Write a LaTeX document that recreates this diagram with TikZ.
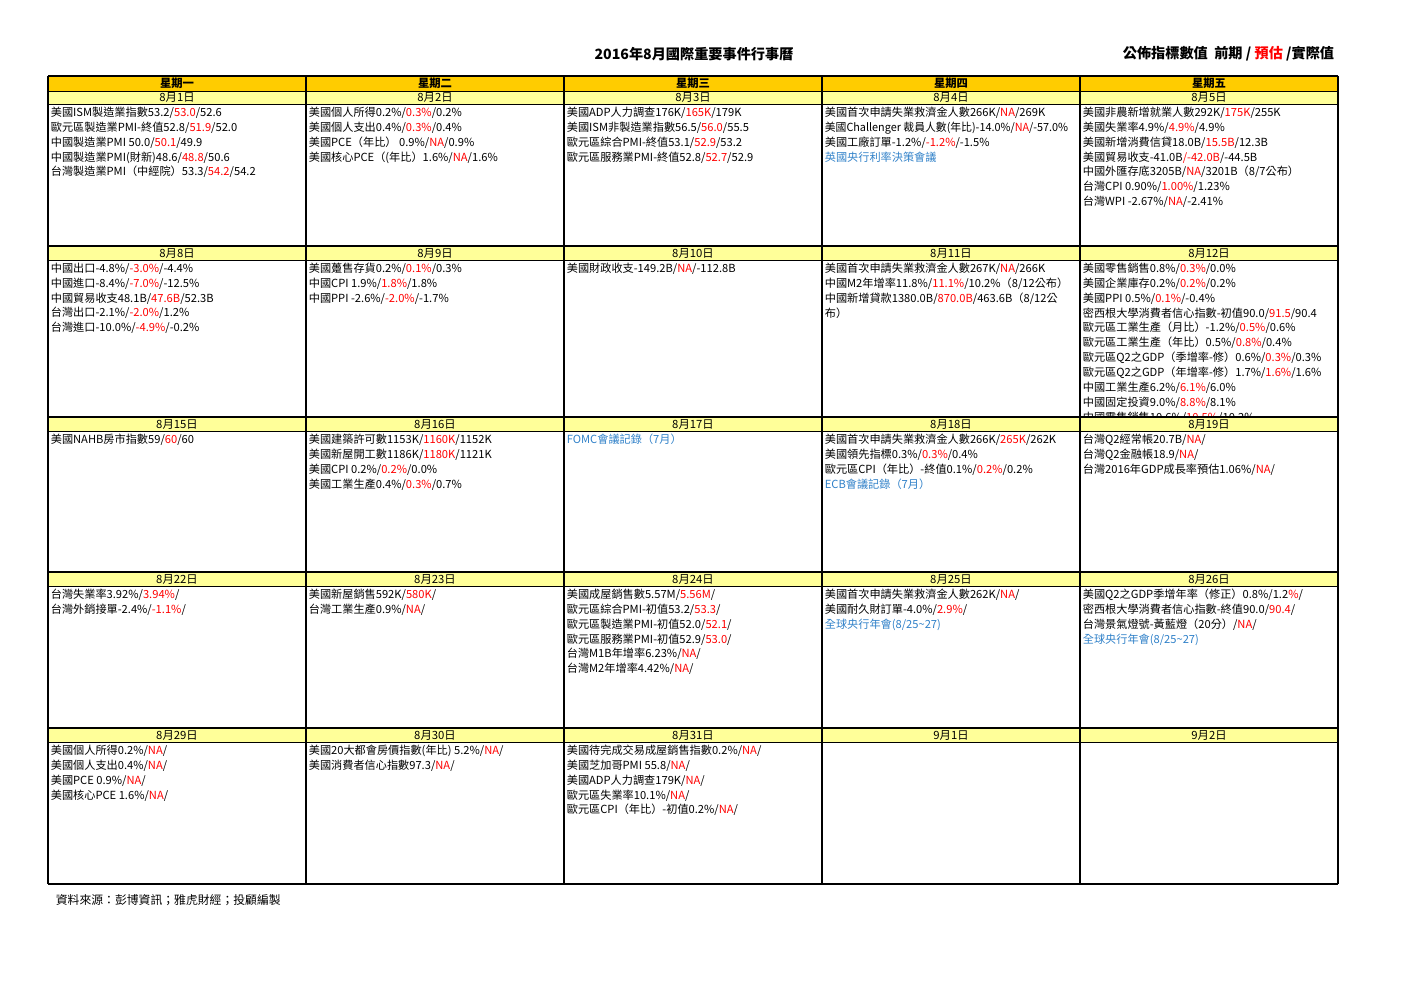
\documentclass[tikz,border=0pt]{standalone}
\usepackage{fontspec}
\setmainfont{Noto Sans CJK TC}
\definecolor{wdayorange}{HTML}{FFCC00}
\definecolor{dayyellow}{HTML}{FFFF99}
\definecolor{estred}{HTML}{FF0000}
\definecolor{mtgblue}{HTML}{2F80C8}
\newcommand{\est}[1]{\textcolor{estred}{#1}}
\newcommand{\mtg}[1]{\textcolor{mtgblue}{#1}}

\begin{document}
\begin{tikzpicture}[x=0.6pt, y=-0.6pt,
	weekday/.style={font=\fontsize{6.8}{8}\selectfont\bfseries},
	daylabel/.style={font=\fontsize{6.8}{8}\selectfont},
	events/.style={anchor=north west, align=left, inner sep=0pt,
		font=\fontsize{6.7}{8.95}\selectfont},
	heading/.style={font=\fontsize{8.5}{10}\selectfont\bfseries},
	gridthick/.style={line width=1pt},
	gridthin/.style={line width=0.5pt}]

\useasboundingbox (0,0) rectangle (1403,992);

\node[heading] (title) at (694,54) {2016年8月國際重要事件行事曆};
\node[heading, anchor=east] (legend) at (1340,54)
	{公佈指標數值\ \ 前期 / \est{預估} /實際值};

\fill[wdayorange] (48,76) rectangle (1338,91);
\foreach \ytop/\ybot in {91/104, 246/260, 417/431, 572/586, 728/742}
	\fill[dayyellow] (48,\ytop) rectangle (1338,\ybot);

\foreach \wday [count=\col from 0] in {星期一, 星期二, 星期三, 星期四, 星期五}
	\node[weekday] (wd\col) at (177+258*\col, 83.5) {\wday};

\foreach \ymid [count=\row from 0] in {97.5, 253, 424, 579, 735}
	\foreach \col in {0,...,4} {
		\pgfmathtruncatemacro\dnum{1+7*\row+\col}
		\ifnum\dnum>31
			\pgfmathtruncatemacro\snum{\dnum-31}
			\node[daylabel] (day\dnum) at (177+258*\col, \ymid) {9月\snum 日};
		\else
			\node[daylabel] (day\dnum) at (177+258*\col, \ymid) {8月\dnum 日};
		\fi
	}

\node[events] (ev1) at (50.5,106.5) {美國ISM製造業指數53.2/\est{53.0}/52.6\\
	歐元區製造業PMI-終值52.8/\est{51.9}/52.0\\
	中國製造業PMI 50.0/\est{50.1}/49.9\\
	中國製造業PMI(財新)48.6/\est{48.8}/50.6\\
	台灣製造業PMI（中經院）53.3/\est{54.2}/54.2};
\node[events] (ev2) at (308.5,106.5) {美國個人所得0.2\%/\est{0.3\%}/0.2\%\\
	美國個人支出0.4\%/\est{0.3\%}/0.4\%\\
	美國PCE（年比） 0.9\%/\est{NA}/0.9\%\\
	美國核心PCE（(年比）1.6\%/\est{NA}/1.6\%};
\node[events] (ev3) at (566.5,106.5) {美國ADP人力調查176K/\est{165K}/179K\\
	美國ISM非製造業指數56.5/\est{56.0}/55.5\\
	歐元區綜合PMI-終值53.1/\est{52.9}/53.2\\
	歐元區服務業PMI-終值52.8/\est{52.7}/52.9};
\node[events] (ev4) at (824.5,106.5) {美國首次申請失業救濟金人數266K/\est{NA}/269K\\
	\scalebox{0.97}[1]{美國Challenger 裁員人數(年比)-14.0\%/\est{NA}/-57.0\%}\\
	美國工廠訂單-1.2\%/\est{-1.2\%}/-1.5\%\\
	\mtg{英國央行利率決策會議}};
\node[events] (ev5) at (1082.5,106.5) {美國非農新增就業人數292K/\est{175K}/255K\\
	美國失業率4.9\%/\est{4.9\%}/4.9\%\\
	美國新增消費信貸18.0B/\est{15.5B}/12.3B\\
	美國貿易收支-41.0B\est{/-42.0B}/-44.5B\\
	中國外匯存底3205B/\est{NA}/3201B（8/7公布）\\
	台灣CPI 0.90\%/\est{1.00\%}/1.23\%\\
	台灣WPI -2.67\%/\est{NA}/-2.41\%};

\node[events] (ev8) at (50.5,262.5) {中國出口-4.8\%/\est{-3.0\%}/-4.4\%\\
	中國進口-8.4\%/\est{-7.0\%}/-12.5\%\\
	中國貿易收支48.1B/\est{47.6B}/52.3B\\
	台灣出口-2.1\%/\est{-2.0\%}/1.2\%\\
	台灣進口-10.0\%/\est{-4.9\%}/-0.2\%};
\node[events] (ev9) at (308.5,262.5) {美國躉售存貨0.2\%/\est{0.1\%}/0.3\%\\
	中國CPI 1.9\%/\est{1.8\%}/1.8\%\\
	中國PPI -2.6\%/\est{-2.0\%}/-1.7\%};
\node[events] (ev10) at (566.5,262.5) {美國財政收支-149.2B/\est{NA}/-112.8B};
\node[events] (ev11) at (824.5,262.5) {美國首次申請失業救濟金人數267K/\est{NA}/266K\\
	中國M2年增率11.8\%/\est{11.1\%}/10.2\%（8/12公布）\\
	中國新增貸款1380.0B/\est{870.0B}/463.6B（8/12公\\
	布）};
\begin{scope}
\clip (1080,260) rectangle (1338,417);
\node[events] (ev12) at (1082.5,262.5) {美國零售銷售0.8\%/\est{0.3\%}/0.0\%\\
	美國企業庫存0.2\%/\est{0.2\%}/0.2\%\\
	美國PPI 0.5\%/\est{0.1\%}/-0.4\%\\
	密西根大學消費者信心指數-初值90.0/\est{91.5}/90.4\\
	歐元區工業生產（月比）-1.2\%/\est{0.5\%}/0.6\%\\
	歐元區工業生產（年比）0.5\%/\est{0.8\%}/0.4\%\\
	歐元區Q2之GDP（季增率-修）0.6\%/\est{0.3\%}/0.3\%\\
	歐元區Q2之GDP（年增率-修）1.7\%/\est{1.6\%}/1.6\%\\
	中國工業生產6.2\%/\est{6.1\%}/6.0\%\\
	中國固定投資9.0\%/\est{8.8\%}/8.1\%\\
	中國零售銷售10.6\%/\est{10.5\%}/10.2\%};
\end{scope}

\node[events] (ev15) at (50.5,433.5) {美國NAHB房市指數59/\est{60}/60};
\node[events] (ev16) at (308.5,433.5) {美國建築許可數1153K/\est{1160K}/1152K\\
	美國新屋開工數1186K/\est{1180K}/1121K\\
	美國CPI 0.2\%/\est{0.2\%}/0.0\%\\
	美國工業生產0.4\%/\est{0.3\%}/0.7\%};
\node[events] (ev17) at (566.5,433.5) {\mtg{FOMC會議記錄（7月）}};
\node[events] (ev18) at (824.5,433.5) {美國首次申請失業救濟金人數266K/\est{265K}/262K\\
	美國領先指標0.3\%/\est{0.3\%}/0.4\%\\
	歐元區CPI（年比）-終值0.1\%/\est{0.2\%}/0.2\%\\
	\mtg{ECB會議記錄（7月）}};
\node[events] (ev19) at (1082.5,433.5) {台灣Q2經常帳20.7B/\est{NA}/\\
	台灣Q2金融帳18.9/\est{NA}/\\
	台灣2016年GDP成長率預估1.06\%/\est{NA}/};

\node[events] (ev22) at (50.5,588.5) {台灣失業率3.92\%/\est{3.94\%}/\\
	台灣外銷接單-2.4\%/\est{-1.1\%}/};
\node[events] (ev23) at (308.5,588.5) {美國新屋銷售592K/\est{580K}/\\
	台灣工業生產0.9\%/\est{NA}/};
\node[events] (ev24) at (566.5,588.5) {美國成屋銷售數5.57M/\est{5.56M}/\\
	歐元區綜合PMI-初值53.2/\est{53.3}/\\
	歐元區製造業PMI-初值52.0/\est{52.1}/\\
	歐元區服務業PMI-初值52.9/\est{53.0}/\\
	台灣M1B年增率6.23\%/\est{NA}/\\
	台灣M2年增率4.42\%/\est{NA}/};
\node[events] (ev25) at (824.5,588.5) {美國首次申請失業救濟金人數262K/\est{NA}/\\
	美國耐久財訂單-4.0\%/\est{2.9\%}/\\
	\mtg{全球央行年會(8/25\textasciitilde 27)}};
\node[events] (ev26) at (1082.5,588.5) {美國Q2之GDP季增年率（修正）0.8\%/1.2\est{\%}/\\
	密西根大學消費者信心指數-終值90.0/\est{90.4}/\\
	台灣景氣燈號-黃藍燈（20分）/\est{NA}/\\
	\mtg{全球央行年會(8/25\textasciitilde 27)}};

\node[events] (ev29) at (50.5,744.5) {美國個人所得0.2\%/\est{NA}/\\
	美國個人支出0.4\%/\est{NA}/\\
	美國PCE 0.9\%/\est{NA}/\\
	美國核心PCE 1.6\%/\est{NA}/};
\node[events] (ev30) at (308.5,744.5) {美國20大都會房價指數(年比) 5.2\%/\est{NA}/\\
	美國消費者信心指數97.3/\est{NA}/};
\node[events] (ev31) at (566.5,744.5) {美國待完成交易成屋銷售指數0.2\%/\est{NA}/\\
	美國芝加哥PMI 55.8/\est{NA}/\\
	美國ADP人力調查179K/\est{NA}/\\
	歐元區失業率10.1\%/\est{NA}/\\
	歐元區CPI（年比）-初值0.2\%/\est{NA}/};

\draw[gridthin] (48,91) -- (1338,91);
\foreach \y in {104, 260, 431, 586, 742}
	\draw[gridthin] (48,\y) -- (1338,\y);
\foreach \y in {76, 246, 417, 572, 728, 884}
	\draw[gridthick] (48,\y) -- (1338,\y);
\foreach \x in {48, 306, 564, 822, 1080, 1338}
	\draw[gridthick] (\x,76) -- (\x,884);

\node[font=\fontsize{7.1}{9}\selectfont, anchor=west] (source) at (50,900)
	{資料來源：彭博資訊；雅虎財經；投顧編製};
\end{tikzpicture}
\end{document}
